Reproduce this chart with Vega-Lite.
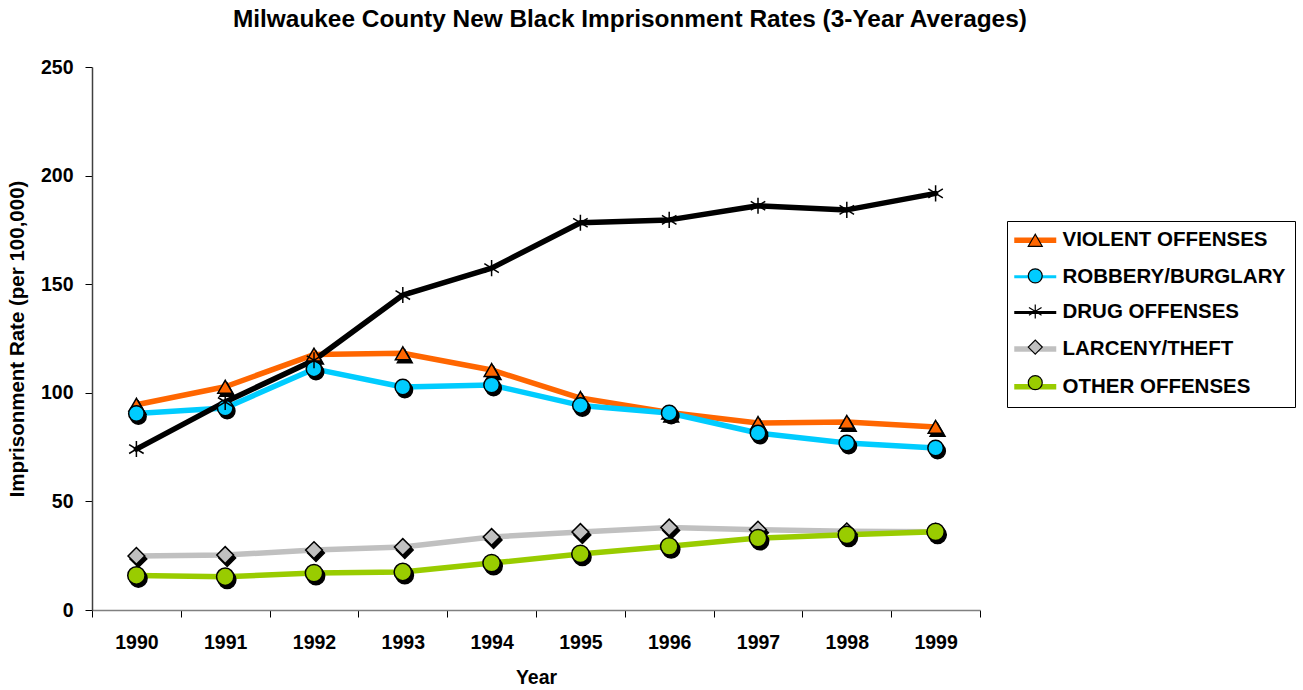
{
  "$schema": "https://vega.github.io/schema/vega-lite/v6.json",
  "autosize": {"type": "none"},
  "width": 888,
  "height": 543,
  "padding": {"left": 92, "top": 67, "right": 323, "bottom": 80},
  "background": "white",
  "config": {
    "font": "Liberation Sans",
    "view": {"stroke": null}
  },
  "title": {
    "text": "Milwaukee County New Black Imprisonment Rates (3-Year Averages)",
    "anchor": "start",
    "frame": "group",
    "dx": 141,
    "offset": 25,
    "fontSize": 24.4,
    "fontWeight": "bold",
    "color": "black"
  },
  "data": {
    "values": [
      {"year": "1990", "series": "VIOLENT OFFENSES", "value": 94.5},
      {"year": "1991", "series": "VIOLENT OFFENSES", "value": 102.8},
      {"year": "1992", "series": "VIOLENT OFFENSES", "value": 117.6},
      {"year": "1993", "series": "VIOLENT OFFENSES", "value": 118.2},
      {"year": "1994", "series": "VIOLENT OFFENSES", "value": 110.5},
      {"year": "1995", "series": "VIOLENT OFFENSES", "value": 97.6},
      {"year": "1996", "series": "VIOLENT OFFENSES", "value": 90.9},
      {"year": "1997", "series": "VIOLENT OFFENSES", "value": 86.1},
      {"year": "1998", "series": "VIOLENT OFFENSES", "value": 86.6},
      {"year": "1999", "series": "VIOLENT OFFENSES", "value": 84.3},
      {"year": "1990", "series": "ROBBERY/BURGLARY", "value": 90.5},
      {"year": "1991", "series": "ROBBERY/BURGLARY", "value": 93.0},
      {"year": "1992", "series": "ROBBERY/BURGLARY", "value": 111.0},
      {"year": "1993", "series": "ROBBERY/BURGLARY", "value": 102.7},
      {"year": "1994", "series": "ROBBERY/BURGLARY", "value": 103.6},
      {"year": "1995", "series": "ROBBERY/BURGLARY", "value": 94.2},
      {"year": "1996", "series": "ROBBERY/BURGLARY", "value": 90.7},
      {"year": "1997", "series": "ROBBERY/BURGLARY", "value": 81.5},
      {"year": "1998", "series": "ROBBERY/BURGLARY", "value": 76.9},
      {"year": "1999", "series": "ROBBERY/BURGLARY", "value": 74.6},
      {"year": "1990", "series": "DRUG OFFENSES", "value": 74.1},
      {"year": "1991", "series": "DRUG OFFENSES", "value": 95.8},
      {"year": "1992", "series": "DRUG OFFENSES", "value": 115.0},
      {"year": "1993", "series": "DRUG OFFENSES", "value": 145.0},
      {"year": "1994", "series": "DRUG OFFENSES", "value": 157.4},
      {"year": "1995", "series": "DRUG OFFENSES", "value": 178.3},
      {"year": "1996", "series": "DRUG OFFENSES", "value": 179.6},
      {"year": "1997", "series": "DRUG OFFENSES", "value": 186.1},
      {"year": "1998", "series": "DRUG OFFENSES", "value": 184.2},
      {"year": "1999", "series": "DRUG OFFENSES", "value": 191.8},
      {"year": "1990", "series": "LARCENY/THEFT", "value": 24.9},
      {"year": "1991", "series": "LARCENY/THEFT", "value": 25.3},
      {"year": "1992", "series": "LARCENY/THEFT", "value": 27.6},
      {"year": "1993", "series": "LARCENY/THEFT", "value": 29.0},
      {"year": "1994", "series": "LARCENY/THEFT", "value": 33.6},
      {"year": "1995", "series": "LARCENY/THEFT", "value": 35.9},
      {"year": "1996", "series": "LARCENY/THEFT", "value": 38.0},
      {"year": "1997", "series": "LARCENY/THEFT", "value": 37.0},
      {"year": "1998", "series": "LARCENY/THEFT", "value": 36.2},
      {"year": "1999", "series": "LARCENY/THEFT", "value": 36.0},
      {"year": "1990", "series": "OTHER OFFENSES", "value": 15.9},
      {"year": "1991", "series": "OTHER OFFENSES", "value": 15.3},
      {"year": "1992", "series": "OTHER OFFENSES", "value": 17.0},
      {"year": "1993", "series": "OTHER OFFENSES", "value": 17.5},
      {"year": "1994", "series": "OTHER OFFENSES", "value": 21.6},
      {"year": "1995", "series": "OTHER OFFENSES", "value": 25.8},
      {"year": "1996", "series": "OTHER OFFENSES", "value": 29.3},
      {"year": "1997", "series": "OTHER OFFENSES", "value": 33.1},
      {"year": "1998", "series": "OTHER OFFENSES", "value": 34.6},
      {"year": "1999", "series": "OTHER OFFENSES", "value": 36.0}
    ]
  },
  "encoding": {
    "x": {
      "field": "year",
      "type": "ordinal",
      "scale": {"type": "band", "paddingInner": 0, "paddingOuter": 0},
      "axis": {
        "title": "Year",
        "titleFontSize": 19.5,
        "titleFontWeight": "bold",
        "titleColor": "black",
        "titlePadding": 17,
        "labelAngle": 0,
        "labelFontSize": 19.5,
        "labelFontWeight": "bold",
        "labelColor": "black",
        "labelPadding": 16,
        "tickBand": "extent",
        "tickSize": 7,
        "tickColor": "black",
        "domainColor": "#808080",
        "domainWidth": 1.5,
        "grid": false
      }
    },
    "y": {
      "field": "value",
      "type": "quantitative",
      "scale": {"domain": [0, 250], "nice": false, "zero": true},
      "axis": {
        "title": "Imprisonment Rate (per 100,000)",
        "titleFontSize": 20.5,
        "titleFontWeight": "bold",
        "titleColor": "black",
        "titlePadding": 13,
        "values": [0, 50, 100, 150, 200, 250],
        "labelFontSize": 19.5,
        "labelFontWeight": "bold",
        "labelColor": "black",
        "labelPadding": 12,
        "tickSize": 7,
        "tickColor": "black",
        "domainColor": "#404040",
        "domainWidth": 1.5,
        "grid": false
      }
    }
  },
  "layer": [
    {
      "mark": {"type": "line", "strokeJoin": "round", "strokeCap": "round"},
      "encoding": {
        "stroke": {
          "field": "series",
          "type": "nominal",
          "sort": null,
          "scale": {
            "range": ["#FF6600", "#00CCFF", "#000000", "#C0C0C0", "#99CC00"]
          },
          "legend": {
            "title": null,
            "orient": "none",
            "legendX": 915,
            "legendY": 154,
            "direction": "vertical",
            "strokeColor": "black",
            "padding": 9,
            "rowPadding": 14.6,
            "symbolType": "M-3,0L3,0",
            "symbolSize": 196,
            "symbolOffset": 9,
            "symbolStrokeWidth": 4,
            "labelOffset": 17,
            "labelLimit": 400,
            "labelFontSize": 20.5,
            "labelFontWeight": "bold",
            "labelColor": "black",
            "encode": {
              "symbols": {
                "update": {
                  "strokeWidth": {"signal": "datum.value === 'ROBBERY/BURGLARY' || datum.value === 'DRUG OFFENSES' ? 3 : 5.5"}
                }
              }
            }
          }
        },
        "strokeWidth": {
          "field": "series",
          "type": "nominal",
          "scale": {
            "domain": ["OTHER OFFENSES", "LARCENY/THEFT", "DRUG OFFENSES", "ROBBERY/BURGLARY", "VIOLENT OFFENSES"],
            "range": [5.5, 5.5, 3, 3, 5.5]
          },
          "legend": null
        }
      }
    },
    {
      "transform": [{"filter": "datum.series !== 'DRUG OFFENSES'"}],
      "mark": {"type": "point", "filled": true, "fill": "black", "stroke": "black", "strokeWidth": 1.5, "opacity": 1, "xOffset": 2, "yOffset": 3},
      "encoding": {
        "shape": {
          "field": "series",
          "type": "nominal",
          "scale": {
            "domain": ["VIOLENT OFFENSES", "ROBBERY/BURGLARY", "DRUG OFFENSES", "LARCENY/THEFT", "OTHER OFFENSES"],
            "range": ["triangle-up", "circle", "M0,-1L0,1M-0.9,-0.55L0.9,0.55M-0.9,0.55L0.9,-0.55", "diamond", "circle"]
          }
        },
        "size": {
          "field": "series",
          "type": "nominal",
          "scale": {
            "domain": ["OTHER OFFENSES", "LARCENY/THEFT", "DRUG OFFENSES", "ROBBERY/BURGLARY", "VIOLENT OFFENSES"],
            "range": [300, 220, 420, 300, 260]
          },
          "legend": null
        }
      }
    },
    {
      "mark": {"type": "point", "filled": true, "stroke": "black", "strokeWidth": 1.5, "opacity": 1},
      "encoding": {
        "fill": {
          "field": "series",
          "type": "nominal",
          "scale": {
            "domain": ["VIOLENT OFFENSES", "ROBBERY/BURGLARY", "DRUG OFFENSES", "LARCENY/THEFT", "OTHER OFFENSES"],
            "range": ["#FF6600", "#00CCFF", "#000000", "#C0C0C0", "#99CC00"]
          },
          "legend": {
            "title": null,
            "orient": "none",
            "legendX": 915,
            "legendY": 154,
            "direction": "vertical",
            "padding": 9,
            "rowPadding": 14.6,
            "symbolSize": 196,
            "symbolOffset": 9,
            "symbolStrokeColor": "black",
            "symbolStrokeWidth": 1.2,
            "labelOffset": 17,
            "labelLimit": 400,
            "labelFontSize": 20.5,
            "labelFontWeight": "bold",
            "labelColor": "black",
            "labelOpacity": 0
          }
        },
        "shape": {
          "field": "series",
          "type": "nominal",
          "scale": {
            "domain": ["VIOLENT OFFENSES", "ROBBERY/BURGLARY", "DRUG OFFENSES", "LARCENY/THEFT", "OTHER OFFENSES"],
            "range": ["triangle-up", "circle", "M0,-1L0,1M-0.9,-0.55L0.9,0.55M-0.9,0.55L0.9,-0.55", "diamond", "circle"]
          }
        },
        "size": {
          "field": "series",
          "type": "nominal",
          "scale": {
            "domain": ["OTHER OFFENSES", "LARCENY/THEFT", "DRUG OFFENSES", "ROBBERY/BURGLARY", "VIOLENT OFFENSES"],
            "range": [300, 220, 420, 300, 260]
          },
          "legend": null
        }
      }
    }
  ]
}
